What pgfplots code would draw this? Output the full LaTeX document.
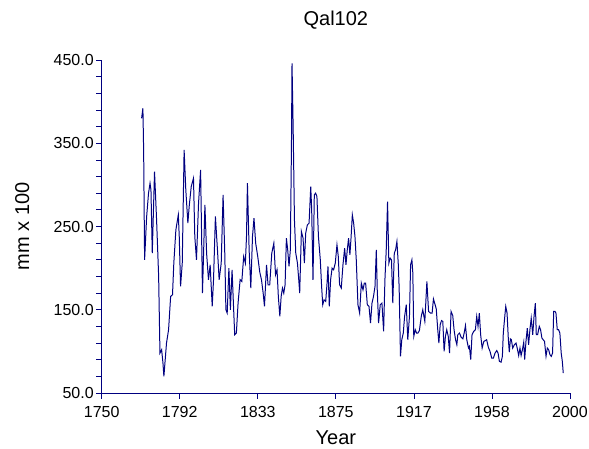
\documentclass[border=0pt]{standalone}
\usepackage{pgfplots}
\pgfplotsset{compat=1.18}
\usepackage{fontspec}
\setmainfont{Liberation Sans}
\definecolor{navyline}{RGB}{0,0,128}

\begin{document}
\begin{tikzpicture}
\path[use as bounding box] (-101.7bp,-56bp) rectangle (487.3bp,393bp);
\begin{axis}[
    scale only axis,
    width=468.3bp,
    height=333bp,
    xmin=1750, xmax=2000,
    ymin=50, ymax=450,
    axis x line=bottom,
    axis y line=left,
    axis line style={-, draw=navyline, line width=0.8pt},
    xtick={1750,1791.667,1833.333,1875,1916.667,1958.333,2000},
    xticklabels={1750,1792,1833,1875,1917,1958,2000},
    ytick={50,150,250,350,450},
    yticklabels={50.0,150.0,250.0,350.0,450.0},
    minor x tick num=4,
    minor y tick num=4,
    tick align=outside,
    major tick length=5.5bp,
    minor tick length=5.5bp,
    tick style={draw=navyline, line width=0.8pt},
    tick label style={font=\fontsize{16bp}{19bp}\selectfont, text=black},
    xticklabel style={anchor=base, yshift=-18.5bp},
    yticklabel style={anchor=east, xshift=1bp},
    clip=false,
]
\addplot[navyline, line width=1pt] coordinates {
(1771.3,380) (1772.0,392) (1772.4,340) (1772.9,210) (1774.0,262)
(1775.0,290) (1775.8,302) (1776.3,294) (1777.0,218) (1778.2,316)
(1779.3,258) (1780.4,190) (1781.1,98) (1782.0,102) (1782.7,86)
(1783.2,70) (1783.9,90) (1784.6,110) (1785.7,126) (1786.8,166)
(1787.8,168) (1788.5,206) (1789.6,246) (1790.9,264) (1791.4,238)
(1792.1,178) (1793.0,206) (1794.0,342) (1794.9,294) (1796.0,254)
(1796.7,274) (1797.8,298) (1799.0,308) (1799.7,238) (1800.6,210)
(1801.7,278) (1802.8,318) (1803.8,170) (1805.1,276) (1806.0,218)
(1807.0,186) (1807.9,204) (1809.0,154) (1809.7,186) (1810.7,262)
(1811.8,222) (1812.7,186) (1813.8,206) (1814.8,288) (1815.7,218)
(1816.3,150) (1817.0,146) (1817.9,200) (1818.7,150) (1819.6,198)
(1820.3,158) (1821.0,120) (1821.9,122) (1822.8,158) (1823.9,186)
(1824.8,184) (1825.8,214) (1826.7,206) (1827.3,238) (1827.8,302)
(1828.7,222) (1829.6,176) (1830.5,238) (1831.3,260) (1832.2,230)
(1833.3,214) (1834.4,195) (1835.3,186) (1836.2,170) (1836.9,154)
(1838.0,204) (1838.8,180) (1839.7,180) (1840.8,218) (1841.9,230)
(1842.8,192) (1843.6,198) (1844.3,166) (1845.1,142) (1845.8,166)
(1846.5,176) (1847.2,170) (1847.9,180) (1848.6,236) (1849.3,222)
(1850.0,202) (1850.7,222) (1851.3,346) (1851.6,446) (1852.2,370)
(1852.9,258) (1853.6,218) (1854.5,206) (1855.2,186) (1855.7,170)
(1856.6,244) (1857.5,236) (1858.2,206) (1858.9,242) (1859.8,252)
(1860.7,254) (1861.6,298) (1862.1,270) (1862.8,186) (1863.5,288)
(1864.2,290) (1864.9,286) (1865.7,238) (1866.7,210) (1867.4,178)
(1868.0,156) (1868.7,162) (1869.6,160) (1870.3,182) (1870.8,202)
(1871.5,154) (1872.2,186) (1873.0,200) (1873.8,198) (1874.7,206)
(1875.6,228) (1876.3,214) (1877.0,180) (1877.9,176) (1878.8,204)
(1879.7,224) (1880.4,204) (1881.1,222) (1881.8,236) (1882.5,216)
(1883.1,236) (1883.8,264) (1884.5,254) (1885.2,238) (1885.9,210)
(1886.8,156) (1887.7,146) (1888.6,182) (1889.5,174) (1890.2,182)
(1890.9,182) (1891.8,156) (1892.7,154) (1893.5,134) (1894.3,158)
(1895.1,166) (1895.9,178) (1896.6,222) (1897.1,174) (1897.8,134)
(1898.7,156) (1899.6,158) (1900.5,124) (1901.2,186) (1901.9,222)
(1902.6,280) (1903.3,206) (1904.0,212) (1904.7,210) (1905.4,158)
(1906.2,218) (1906.9,222) (1907.6,232) (1908.3,206) (1908.8,176)
(1909.5,94) (1910.2,114) (1911.0,122) (1911.7,142) (1912.6,156)
(1913.4,114) (1914.3,142) (1914.9,204) (1915.6,210) (1916.1,194)
(1916.6,118) (1917.4,126) (1918.1,122) (1918.8,122) (1919.6,125)
(1920.6,142) (1921.4,150) (1922.5,136) (1923.6,184) (1924.5,148)
(1925.5,146) (1926.4,146) (1927.1,163) (1928.0,156) (1928.6,151)
(1929.4,126) (1930.0,110) (1930.7,132) (1931.4,137) (1932.1,136)
(1932.8,100) (1933.5,118) (1934.2,126) (1935.0,118) (1935.7,98)
(1936.5,148) (1937.4,143) (1938.1,126) (1938.9,114) (1939.6,108)
(1940.1,120) (1941.0,122) (1941.9,117) (1942.8,115) (1943.5,122)
(1944.2,131) (1944.9,114) (1945.8,104) (1946.3,106) (1947.0,90)
(1947.7,120) (1948.6,124) (1949.5,126) (1950.2,142) (1950.9,130)
(1951.6,146) (1952.3,120) (1953.1,104) (1954.0,112) (1954.8,113)
(1955.5,114) (1956.4,105) (1957.3,100) (1958.2,92) (1959.1,92)
(1960.0,98) (1960.9,101) (1961.6,98) (1962.3,88) (1963.2,87)
(1963.9,94) (1964.4,122) (1965.1,140) (1965.7,154) (1966.4,146)
(1967.1,114) (1967.6,99) (1968.2,115) (1968.7,114) (1969.4,104)
(1970.3,108) (1971.2,110) (1972.0,102) (1972.6,95) (1973.3,104)
(1973.9,95) (1974.6,102) (1975.3,111) (1975.8,90) (1976.5,112)
(1977.2,128) (1977.9,108) (1978.6,126) (1979.3,140) (1980.1,120)
(1980.8,142) (1981.5,158) (1982.0,120) (1982.7,120) (1983.6,130)
(1984.3,126) (1985.0,116) (1985.7,114) (1986.4,112) (1987.2,94)
(1987.9,104) (1988.6,102) (1989.3,96) (1990.0,94) (1990.7,98)
(1991.3,148) (1992.0,148) (1992.5,146) (1993.2,126) (1993.9,126)
(1994.6,122) (1995.3,98) (1995.9,88) (1996.4,74)
};
\node[anchor=base, font=\fontsize{20bp}{24bp}\selectfont]
    at (axis description cs:0.5,1) [yshift=34bp] {Qal102};
\node[anchor=base, font=\fontsize{20bp}{24bp}\selectfont]
    at (axis description cs:0.5,0) [yshift=-51bp] {Year};
\node[xshift=-72.5bp, anchor=base, rotate=90, font=\fontsize{20bp}{24bp}\selectfont]
    at (axis description cs:0,0.5) {mm x 100};
\end{axis}
\end{tikzpicture}
\end{document}
